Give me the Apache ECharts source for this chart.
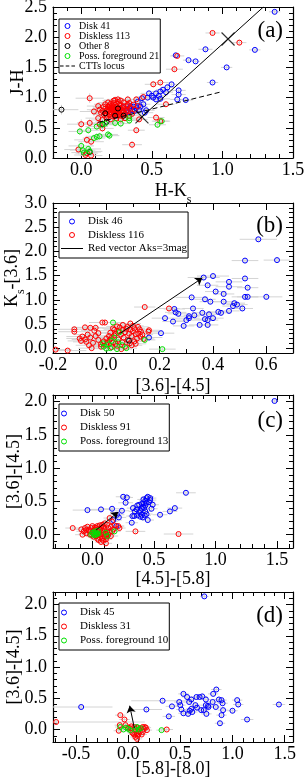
<!DOCTYPE html>
<html><head><meta charset="utf-8">
<script src="https://cdn.jsdelivr.net/npm/echarts@6/dist/echarts.min.js"></script>
<style>html,body{margin:0;padding:0;background:#fff}#c{width:306px;height:778px}</style>
</head><body><div id="c"></div>
<script>
// ---------- DATA: [x, y, xerr, yerr] ----------
// Panel (a): J-H vs H-Ks
const diskA = [[1.37,2.42,0.04,0.03],[0.88,1.80,0.05,0.04],[1.23,1.79,0.04,0.03],[0.67,1.70,0.03,0.03],[0.76,1.62,0.04,0.03],[0.81,1.60,0.03,0.03],[1.03,1.50,0.04,0.03],[0.93,1.25,0.04,0.03],[0.64,1.22,0.04,0.04],[0.61,1.17,0.05,0.04],[0.58,1.13,0.05,0.04],[0.69,1.12,0.05,0.04],[0.56,1.10,0.06,0.05],[0.53,1.07,0.05,0.04],[0.48,1.07,0.06,0.05],[0.50,1.03,0.05,0.05],[0.55,1.03,0.06,0.05],[0.69,1.05,0.05,0.04],[0.53,0.97,0.06,0.05],[0.56,0.98,0.07,0.05],[0.68,0.97,0.05,0.04],[0.74,0.96,0.05,0.04],[0.43,0.99,0.05,0.05],[0.40,0.93,0.06,0.05],[0.44,0.89,0.05,0.05],[0.37,0.85,0.06,0.05],[0.39,0.83,0.05,0.05],[0.36,0.79,0.06,0.05],[0.32,0.79,0.07,0.06],[0.34,0.82,0.06,0.05],[0.35,0.86,0.05,0.05],[0.38,0.78,0.06,0.05],[0.41,0.80,0.05,0.05],[0.42,0.85,0.05,0.05],[0.46,0.79,0.06,0.05],[0.30,0.84,0.06,0.05],[0.33,0.76,0.07,0.05],[0.45,0.75,0.06,0.05],[0.47,1.00,0.05,0.05],[0.51,1.00,0.06,0.05],[0.60,1.09,0.05,0.04]];
const disklessA = [[0.93,2.07,0.05,0.04],[1.12,1.91,0.05,0.04],[0.49,1.47,0.07,0.05],[0.66,1.47,0.06,0.05],[0.68,1.69,0.05,0.04],[0.56,1.25,0.06,0.05],[0.51,1.22,0.06,0.05],[0.06,0.99,0.10,0.08],[0.24,0.96,0.08,0.06],[0.39,0.97,0.06,0.05],[0.44,1.01,0.06,0.05],[0.33,0.97,0.07,0.06],[0.60,0.89,0.06,0.05],[0.09,0.77,0.10,0.08],[0.12,0.66,0.09,0.07],[0.00,0.56,0.10,0.08],[0.06,0.58,0.09,0.07],[0.13,0.56,0.08,0.07],[0.15,0.49,0.08,0.06],[0.39,0.46,0.06,0.05],[0.36,0.22,0.07,0.06],[-0.02,0.14,0.10,0.08],[0.04,0.30,0.09,0.07],[0.07,0.27,0.09,0.07],[0.03,0.05,0.08,0.06],[0.07,0.04,0.08,0.06],[0.41,0.64,0.06,0.05],[0.53,0.67,0.06,0.05],[0.56,0.61,0.06,0.05],[0.40,0.86,0.06,0.05],[0.33,0.86,0.07,0.05],[0.04,0.08,0.08,0.06],[0.15,0.63,0.08,0.06],[0.18,0.72,0.08,0.06],
[0.17,0.82,0.09,0.07],[0.19,0.85,0.08,0.06],[0.20,0.87,0.09,0.07],[0.21,0.83,0.07,0.06],[0.22,0.80,0.08,0.06],[0.23,0.78,0.09,0.07],[0.24,0.82,0.08,0.06],[0.25,0.85,0.07,0.06],[0.26,0.93,0.08,0.06],[0.27,0.88,0.09,0.07],[0.28,0.82,0.08,0.06],[0.29,0.79,0.07,0.06],[0.30,0.86,0.08,0.06],[0.31,0.81,0.09,0.07],[0.21,0.76,0.08,0.06],[0.22,0.74,0.07,0.06],[0.23,0.72,0.08,0.06],[0.24,0.76,0.09,0.07],[0.25,0.79,0.08,0.06],[0.26,0.75,0.07,0.06],[0.27,0.77,0.08,0.06],[0.20,0.79,0.09,0.07],[0.19,0.77,0.08,0.06],[0.18,0.79,0.07,0.06],[0.16,0.85,0.08,0.06],[0.15,0.78,0.09,0.07],[0.17,0.74,0.08,0.06],[0.18,0.70,0.07,0.06],[0.20,0.72,0.08,0.06],[0.22,0.69,0.09,0.07],[0.24,0.71,0.08,0.06],[0.26,0.70,0.07,0.06],[0.28,0.73,0.08,0.06],[0.30,0.75,0.09,0.07],[0.32,0.77,0.08,0.06],[0.23,0.84,0.07,0.06],[0.25,0.90,0.08,0.06],[0.24,0.88,0.09,0.07],[0.22,0.86,0.08,0.06],[0.21,0.90,0.07,0.06],[0.23,0.91,0.08,0.06],[0.27,0.83,0.09,0.07],[0.29,0.84,0.08,0.06],[0.26,0.81,0.07,0.06],[0.28,0.87,0.08,0.06],[0.21,0.81,0.09,0.07],[0.19,0.81,0.08,0.06],[0.20,0.84,0.07,0.06],[0.22,0.83,0.08,0.06],[0.24,0.79,0.09,0.07],[0.26,0.78,0.08,0.06],[0.23,0.81,0.07,0.06],[0.25,0.74,0.08,0.06],[0.27,0.72,0.09,0.07],[0.29,0.69,0.08,0.06],[0.31,0.72,0.07,0.06],[0.33,0.80,0.08,0.06],[0.35,0.83,0.09,0.07],[0.16,0.72,0.08,0.06],[0.14,0.75,0.07,0.06],[0.18,0.66,0.08,0.06],[0.21,0.64,0.09,0.07],[0.25,0.66,0.08,0.06],[0.28,0.64,0.07,0.06],[0.31,0.66,0.08,0.06],[0.34,0.70,0.09,0.07],[0.36,0.73,0.08,0.06],[0.37,0.88,0.07,0.06],[0.34,0.91,0.08,0.06],[0.30,0.92,0.09,0.07],[0.28,0.95,0.08,0.06],[0.19,0.92,0.07,0.06],[0.17,0.89,0.08,0.06],[0.13,0.80,0.09,0.07],[0.12,0.86,0.08,0.06],[0.26,0.97,0.07,0.06],[0.23,0.95,0.08,0.06],[0.33,0.88,0.09,0.07],[0.38,0.80,0.08,0.06]];
const otherA = [[-0.14,0.80,0.12,0.08],[0.17,0.74,0.08,0.06],[0.26,0.82,0.07,0.06],[0.24,0.70,0.07,0.06],[0.30,0.70,0.07,0.06],[0.18,0.60,0.08,0.06],[0.15,0.56,0.08,0.06],[0.06,0.10,0.08,0.06]];
const fgA = [[-0.01,0.44,0.08,0.06],[0.05,0.46,0.08,0.06],[0.11,0.52,0.08,0.06],[0.11,0.35,0.08,0.06],[0.09,0.33,0.08,0.06],[0.13,0.36,0.08,0.06],[0.19,0.39,0.07,0.06],[0.20,0.37,0.07,0.06],[0.15,0.55,0.08,0.06],[0.17,0.57,0.08,0.06],[0.24,0.58,0.07,0.06],[0.28,0.57,0.07,0.06],[0.34,0.66,0.07,0.05],[0.34,0.62,0.07,0.05],[0.54,0.55,0.06,0.05],[0.57,0.61,0.06,0.05],[0.00,0.20,0.09,0.07],[0.01,0.13,0.09,0.07],[0.02,0.09,0.09,0.07],[0.05,0.15,0.09,0.07],[0.06,0.11,0.09,0.07]];
const cttsLocus = [[0.12,0.59],[1.0,1.10]];
const redLineA = [[0.42,0.66],[1.29,2.50]];
const crossA = [[0.43,0.68],[1.04,1.97]];

// Panel (b): Ks-[3.6] vs [3.6]-[4.5]
const diskB = [[0.57,2.25,0.07,0.05],[0.52,1.81,0.05,0.05],[0.64,1.82,0.05,0.05],[0.52,1.44,0.05,0.05],[0.53,1.25,0.04,0.05],[0.52,1.06,0.05,0.05],[0.60,1.06,0.06,0.05],[0.51,0.82,0.04,0.05],[0.48,0.93,0.04,0.05],[0.475,0.87,0.04,0.05],[0.46,1.27,0.05,0.05],[0.46,1.37,0.05,0.05],[0.44,1.12,0.04,0.05],[0.41,1.17,0.04,0.05],[0.44,0.96,0.04,0.05],[0.46,0.77,0.04,0.05],[0.43,0.73,0.04,0.05],[0.40,1.49,0.06,0.05],[0.38,1.30,0.04,0.05],[0.365,1.46,0.06,0.05],[0.37,1.01,0.04,0.05],[0.39,0.96,0.04,0.05],[0.32,1.05,0.06,0.05],[0.325,0.82,0.04,0.05],[0.33,0.68,0.04,0.05],[0.31,0.62,0.04,0.05],[0.30,0.58,0.04,0.05],[0.36,0.73,0.04,0.05],[0.385,0.70,0.04,0.05],[0.37,0.60,0.04,0.05],[0.38,0.58,0.04,0.05],[0.40,0.62,0.04,0.05],[0.35,0.48,0.04,0.05],[0.38,0.48,0.04,0.05],[0.29,0.46,0.04,0.05],[0.25,0.55,0.04,0.05],[0.22,0.62,0.05,0.05],[0.255,0.81,0.04,0.05],[0.26,0.74,0.04,0.05],[0.27,0.71,0.04,0.05],[0.205,0.31,0.05,0.05],[0.16,0.22,0.05,0.05],[0.31,0.66,0.04,0.05],[0.42,0.75,0.04,0.05],[0.49,0.90,0.04,0.05],[0.53,1.06,0.04,0.05]];
const disklessB = [[-0.19,-0.03,0.06,0.04],[-0.145,-0.05,0.07,0.04],[-0.12,0.39,0.06,0.05],[-0.12,0.34,0.06,0.05],[-0.09,0.24,0.06,0.05],[-0.08,0.18,0.05,0.05],[-0.075,0.13,0.05,0.05],[-0.06,0.42,0.05,0.05],[-0.07,0.28,0.05,0.05],[-0.04,0.42,0.05,0.05],[-0.015,0.53,0.05,0.05],[-0.005,0.53,0.05,0.05],[-0.04,0.25,0.05,0.05],[-0.055,0.0,0.05,0.04],[-0.06,0.22,0.05,0.05],[-0.05,0.11,0.05,0.05],[-0.03,0.17,0.05,0.05],[-0.02,0.03,0.05,0.04],[0.0,0.07,0.04,0.04],[0.012,0.17,0.04,0.05],[0.02,0.21,0.04,0.05],[0.03,0.26,0.04,0.05],[0.035,0.30,0.04,0.05],[0.045,0.35,0.04,0.05],[0.05,0.43,0.04,0.05],[0.062,0.48,0.04,0.05],[0.09,0.51,0.04,0.05],[0.10,0.46,0.04,0.05],[0.105,0.41,0.04,0.05],[0.119,0.44,0.04,0.05],[0.125,0.39,0.04,0.05],[0.13,0.34,0.04,0.05],[0.128,0.24,0.04,0.05],[0.144,0.85,0.04,0.05],[0.158,0.34,0.04,0.05],[0.16,0.37,0.04,0.05],[0.235,0.82,0.04,0.05],[0.08,0.17,0.04,0.05],[0.088,0.10,0.04,0.04],[0.056,-0.02,0.04,0.04],[0.04,0.05,0.04,0.04],[0.025,0.12,0.04,0.05],[0.01,0.25,0.04,0.05],[0.0,0.20,0.04,0.05],[-0.01,0.14,0.04,0.05],[0.015,0.32,0.04,0.05],[0.03,0.38,0.04,0.05],[0.055,0.28,0.04,0.05],[0.065,0.22,0.04,0.05],[0.07,0.33,0.04,0.05],[0.075,0.40,0.04,0.05],[0.085,0.30,0.04,0.05],[0.095,0.25,0.04,0.05],[0.1,0.35,0.04,0.05],[0.11,0.29,0.04,0.05],[0.115,0.20,0.04,0.05],[0.105,0.14,0.04,0.05],[0.095,0.06,0.04,0.04],[0.07,0.03,0.04,0.04],[0.06,0.12,0.04,0.05],[0.045,0.18,0.04,0.05],[0.035,0.09,0.04,0.04],[0.02,0.02,0.04,0.04],[0.005,0.12,0.04,0.05],[-0.02,0.08,0.04,0.04],[-0.03,0.31,0.05,0.05],[-0.045,0.36,0.05,0.05],[-0.08,0.43,0.05,0.05],[0.04,0.45,0.04,0.05],[0.025,0.41,0.04,0.05],[0.06,0.38,0.04,0.05],[0.08,0.44,0.04,0.05],[0.09,0.38,0.04,0.05],[0.12,0.30,0.04,0.05],[0.135,0.28,0.04,0.05],[0.14,0.19,0.04,0.05],[0.11,0.09,0.04,0.04],[-0.1,0.2,0.05,0.05],[-0.095,0.15,0.05,0.05],[-0.065,0.06,0.05,0.04]];
const fgB = [[0.025,0.53,0.04,0.05],[-0.012,0.10,0.04,0.04],[-0.01,0.03,0.04,0.04],[0.0,-0.01,0.04,0.04],[0.01,0.08,0.04,0.04],[0.02,0.15,0.04,0.05],[0.04,-0.02,0.04,0.04],[0.075,0.0,0.04,0.04],[0.144,0.17,0.04,0.05],[0.21,-0.02,0.05,0.04],[0.03,0.22,0.04,0.05],[0.05,0.33,0.04,0.05],[0.06,0.06,0.04,0.04],[0.045,0.12,0.04,0.05],[0.015,0.0,0.04,0.04]];
const otherB = [[0.085,0.155,0.04,0.05]];
const vectorB = [[0.05,0.30],[0.36,1.45]];

// Panel (c): [3.6]-[4.5] vs [4.5]-[5.8]
const diskC = [[1.48,2.01,0.03,0.03],[0.76,0.63,0.08,0.04],[-0.04,0.37,0.12,0.04],[0.07,0.38,0.10,0.04],[0.16,0.39,0.08,0.04],[0.17,0.22,0.07,0.04],[0.195,0.13,0.06,0.04],[0.25,0.57,0.06,0.04],[0.27,0.48,0.06,0.04],[0.28,0.56,0.05,0.04],[0.24,0.36,0.06,0.04],[0.32,0.18,0.05,0.04],[0.33,0.40,0.05,0.04],[0.34,0.28,0.05,0.04],[0.365,0.44,0.05,0.04],[0.38,0.45,0.05,0.04],[0.365,0.29,0.05,0.04],[0.39,0.36,0.05,0.04],[0.405,0.47,0.05,0.04],[0.415,0.53,0.05,0.04],[0.44,0.55,0.05,0.04],[0.45,0.57,0.05,0.04],[0.42,0.40,0.05,0.04],[0.43,0.35,0.05,0.04],[0.425,0.29,0.05,0.04],[0.38,0.34,0.05,0.04],[0.41,0.42,0.05,0.04],[0.46,0.49,0.05,0.04],[0.47,0.52,0.05,0.04],[0.49,0.45,0.05,0.04],[0.48,0.39,0.05,0.04],[0.45,0.22,0.05,0.04],[0.55,0.30,0.06,0.04],[0.63,0.35,0.06,0.04],[0.67,0.40,0.06,0.04],[0.345,0.35,0.05,0.04],[0.325,0.28,0.05,0.04],[0.40,0.30,0.05,0.04],[0.41,0.26,0.05,0.04],[0.43,0.44,0.05,0.04],[0.44,0.48,0.05,0.04],[0.43,0.51,0.05,0.04],[0.40,0.39,0.05,0.04],[0.39,0.27,0.05,0.04],[0.42,0.47,0.05,0.04],[0.44,0.31,0.05,0.04],[0.36,0.38,0.05,0.04],[0.20,0.30,0.06,0.04],[0.215,0.26,0.06,0.04],[0.47,0.55,0.05,0.04]];
const disklessC = [[-0.16,0.10,0.06,0.03],[0.35,0.05,0.08,0.03],[0.70,0.01,0.12,0.03],[0.11,-0.13,0.05,0.03],[0.14,0.25,0.05,0.03],[0.16,0.20,0.05,0.03],[0.18,0.14,0.05,0.03],[0.21,0.13,0.05,0.03],[0.22,0.10,0.05,0.03],[0.17,0.08,0.05,0.03],[0.15,0.12,0.05,0.03],[-0.07,0.05,0.06,0.03],[-0.06,0.10,0.05,0.03],[-0.05,0.02,0.06,0.03],[-0.04,0.12,0.05,0.03],[-0.03,0.07,0.06,0.03],[-0.02,0.0,0.05,0.03],[-0.01,0.10,0.06,0.03],[0.0,0.04,0.05,0.03],[0.0,0.13,0.06,0.03],[0.01,-0.03,0.05,0.03],[0.02,0.08,0.06,0.03],[0.02,0.11,0.05,0.03],[0.03,0.02,0.06,0.03],[0.03,-0.02,0.05,0.03],[0.04,0.06,0.06,0.03],[0.04,0.13,0.05,0.03],[0.05,0.0,0.06,0.03],[0.05,0.09,0.05,0.03],[0.06,-0.04,0.06,0.03],[0.06,0.04,0.05,0.03],[0.07,0.11,0.06,0.03],[0.07,0.0,0.05,0.03],[0.08,0.06,0.06,0.03],[0.08,-0.06,0.05,0.03],[0.09,0.03,0.06,0.03],[0.09,-0.09,0.05,0.03],[0.10,0.08,0.06,0.03],[0.10,-0.02,0.05,0.03],[0.11,0.01,0.06,0.03],[0.11,-0.07,0.05,0.03],[0.12,0.05,0.06,0.03],[0.12,-0.03,0.05,0.03],[0.13,0.10,0.06,0.03],[0.13,0.00,0.05,0.03],[0.05,-0.08,0.06,0.03],[0.07,-0.11,0.05,0.03],[0.04,-0.06,0.06,0.03],[-0.02,0.05,0.05,0.03],[-0.05,0.07,0.06,0.03],[0.01,0.06,0.05,0.03],[0.0,-0.01,0.06,0.03],[0.03,0.10,0.05,0.03],[0.06,0.14,0.06,0.03],[0.09,0.12,0.05,0.03],[0.12,0.15,0.06,0.03],[0.14,0.04,0.05,0.03],[0.15,-0.02,0.06,0.03],[0.16,0.05,0.05,0.03],[0.10,0.17,0.06,0.03],[0.08,0.15,0.05,0.03],[-0.08,0.0,0.06,0.03],[-0.09,0.08,0.05,0.03]];
const fgC = [[0.0,0.03,0.05,0.03],[-0.01,0.0,0.05,0.03],[0.01,0.01,0.05,0.03],[0.02,0.05,0.05,0.03],[0.03,0.0,0.05,0.03],[0.03,0.03,0.05,0.03],[0.04,0.01,0.05,0.03],[0.045,0.06,0.05,0.03],[0.05,0.02,0.05,0.03],[0.02,-0.01,0.05,0.03],[0.11,0.03,0.05,0.03],[0.12,-0.02,0.05,0.03],[0.18,0.05,0.05,0.03]];
const vectorC = [[0.03,0.07],[0.21,0.34]];

// Panel (d): [3.6]-[4.5] vs [5.8]-[8.0]
const diskD = [[0.73,2.13,0.04,0.03],[-0.45,0.36,0.30,0.04],[0.175,0.32,0.15,0.04],[0.33,0.46,0.30,0.04],[0.39,0.21,0.06,0.04],[0.42,0.37,0.06,0.04],[0.49,0.44,0.05,0.04],[0.50,0.39,0.05,0.04],[0.51,0.32,0.05,0.04],[0.53,0.57,0.05,0.04],[0.53,0.26,0.05,0.04],[0.565,0.52,0.05,0.04],[0.585,0.44,0.05,0.04],[0.605,0.48,0.05,0.04],[0.605,0.33,0.05,0.04],[0.615,0.28,0.05,0.04],[0.575,0.25,0.05,0.04],[0.645,0.39,0.05,0.04],[0.655,0.52,0.05,0.04],[0.685,0.52,0.05,0.04],[0.70,0.31,0.05,0.04],[0.725,0.31,0.05,0.04],[0.745,0.48,0.05,0.04],[0.745,0.39,0.05,0.04],[0.75,0.25,0.05,0.04],[0.765,0.38,0.05,0.04],[0.81,0.44,0.05,0.04],[0.815,0.57,0.05,0.04],[0.84,0.36,0.05,0.04],[0.845,0.64,0.05,0.04],[0.87,0.48,0.05,0.04],[0.895,0.47,0.05,0.04],[0.905,0.42,0.05,0.04],[0.895,0.23,0.05,0.04],[0.88,0.10,0.05,0.04],[0.91,0.31,0.05,0.04],[1.0,0.30,0.05,0.04],[1.045,0.47,0.05,0.04],[1.055,0.40,0.05,0.04],[1.14,0.16,0.06,0.04],[1.445,0.40,0.06,0.04],[0.77,0.36,0.05,0.04],[0.59,0.30,0.05,0.04],[0.66,0.35,0.05,0.04],[0.71,0.53,0.05,0.04]];
const disklessD = [[-0.69,0.12,0.85,0.03],[-0.075,0.23,0.05,0.03],[-0.035,0.16,0.05,0.03],[-0.08,0.07,0.05,0.03],[-0.09,-0.02,0.05,0.03],[-0.025,0.07,0.05,0.03],[0.05,-0.07,0.05,0.03],[0.08,-0.06,0.05,0.03],[0.085,-0.15,0.05,0.03],[0.07,0.01,0.05,0.03],[0.14,0.04,0.05,0.03],[0.17,0.03,0.05,0.03],[0.14,-0.04,0.05,0.03],[0.37,0.0,0.06,0.03],[0.02,0.02,0.05,0.03],[0.04,-0.05,0.05,0.03],[0.06,-0.08,0.05,0.03],[0.09,-0.10,0.05,0.03],[0.10,0.0,0.05,0.03],[0.11,-0.04,0.05,0.03],[0.12,0.02,0.05,0.03],[0.03,0.05,0.05,0.03],[0.0,0.03,0.05,0.03],[0.06,0.04,0.05,0.03],[0.09,0.03,0.05,0.03],[0.15,0.01,0.05,0.03],[0.18,-0.01,0.05,0.03],[0.13,-0.08,0.05,0.03],[0.07,-0.12,0.05,0.03],[0.10,-0.07,0.05,0.03],[0.16,0.04,0.05,0.03]];
const fgD = [[-0.075,0.04,0.05,0.03],[-0.045,0.0,0.05,0.03],[-0.02,0.03,0.05,0.03],[0.0,0.01,0.05,0.03],[0.02,-0.01,0.05,0.03],[0.07,0.0,0.05,0.03],[0.085,0.04,0.05,0.03],[0.10,0.0,0.05,0.03],[0.12,0.02,0.05,0.03],[0.32,-0.01,0.05,0.03]];
const vectorD = [[0.06,0.02],[0.015,0.38]];

// Axis ranges and tick labels
const panels = [
  {x:[-0.2,1.5], y:[0,2.5],   xMajor:[0.0,0.5,1.0,1.5], yMajor:[0.0,0.5,1.0,1.5,2.0,2.5], xName:'H-K{s|s}', yName:'J-H', tag:'(a)'},
  {x:[-0.2,0.7], y:[-0.1,3.0], xMajor:[-0.2,0.0,0.2,0.4,0.6], yMajor:[0.0,0.5,1.0,1.5,2.0,2.5,3.0], xName:'[3.6]-[4.5]', yName:'K{s|s}-[3.6]', tag:'(b)'},
  {x:[-0.32,1.63], y:[-0.2,2.1], xMajor:[0.0,0.5,1.0,1.5], yMajor:[0.0,0.5,1.0,1.5,2.0], xName:'[4.5]-[5.8]', yName:'[3.6]-[4.5]', tag:'(c)'},
  {x:[-0.72,1.58], y:[-0.2,2.2], xMajor:[-0.5,0.0,0.5,1.0,1.5], yMajor:[0.0,0.5,1.0,1.5,2.0], xName:'[5.8]-[8.0]', yName:'[3.6]-[4.5]', tag:'(d)'}
];

// ---------- LAYOUT ----------
const F = '"Liberation Serif", "Times New Roman", serif';
const grids = [
  {left:53, top:7, width:240, height:151},
  {left:53, top:203, width:240, height:150},
  {left:53, top:395, width:240, height:153},
  {left:53, top:592, width:240, height:150}
];
const xNameGap = [24, 24, 22, 18];
const yNameGap = [26, 32, 30, 30];
const BLUE='#0000ff', RED='#ff0000', GREEN='#00e000', BLACK='#000000', ERR='#d4d4d4';

function minorTicks(min, max){
  const out=[]; const a=Math.ceil(min*10-1e-6), b=Math.floor(max*10+1e-6);
  for(let k=a;k<=b;k++) out.push(k/10);
  return out;
}
const rich = {s:{fontSize:12, fontFamily:F, verticalAlign:'bottom', padding:[0,0,-6,0]}};

const xAxes=[], yAxes=[];
panels.forEach((p,gi)=>{
  const mk = (dim, pos, ticks, len, showLine, labelVals, name) => {
    const rng = dim==='x'?p.x:p.y;
    const ax = {
      type:'value', gridIndex:gi, position:pos, min:rng[0], max:rng[1], scale:true,
      splitLine:{show:false},
      axisLine:{show:showLine, onZero:false, lineStyle:{color:'#000', width:1.2}},
      axisTick:{show:true, inside:true, length:len, customValues:ticks, lineStyle:{color:'#000', width:1}},
      axisLabel:labelVals ? {show:true, customValues:labelVals, formatter:v=>Number(v).toFixed(1), fontFamily:F, fontSize:18, color:'#000', margin: dim==='x'?3:6} : {show:false}
    };
    if(name){
      ax.name=name; ax.nameLocation='middle'; ax.nameMoveOverlap=false;
      ax.nameGap = dim==='x'?xNameGap[gi]:yNameGap[gi];
      ax.nameTextStyle={fontFamily:F, fontSize:18, color:'#000', rich:rich};
    }
    return ax;
  };
  const xm = minorTicks(p.x[0],p.x[1]), ym = minorTicks(p.y[0],p.y[1]);
  xAxes.push(mk('x','bottom',p.xMajor,7,true,p.xMajor,p.xName));
  xAxes.push(mk('x','bottom',xm,4,false,null,null));
  xAxes.push(mk('x','top',p.xMajor,7,true,null,null));
  xAxes.push(mk('x','top',xm,4,false,null,null));
  yAxes.push(mk('y','left',p.yMajor,7,true,p.yMajor,p.yName));
  yAxes.push(mk('y','left',ym,4,false,null,null));
  yAxes.push(mk('y','right',p.yMajor,7,true,null,null));
  yAxes.push(mk('y','right',ym,4,false,null,null));
});

function errSeries(gi, data){
  return {type:'custom', name:'err'+gi, xAxisIndex:gi*4, yAxisIndex:gi*4, clip:true, silent:true, z:1,
    data:data,
    renderItem:(params, api)=>{
      const x=api.value(0), y=api.value(1), ex=api.value(2), ey=api.value(3);
      const a=api.coord([x-ex,y]), b=api.coord([x+ex,y]), c=api.coord([x,y-ey]), d=api.coord([x,y+ey]);
      return {type:'group', children:[
        {type:'line', shape:{x1:a[0],y1:a[1],x2:b[0],y2:b[1]}, style:{stroke:ERR, lineWidth:1}},
        {type:'line', shape:{x1:c[0],y1:c[1],x2:d[0],y2:d[1]}, style:{stroke:ERR, lineWidth:1}}
      ]};
    }};
}
function pts(gi, name, data, color){
  return {type:'scatter', name:name, xAxisIndex:gi*4, yAxisIndex:gi*4, data:data, symbol:'circle', symbolSize:5, z:3,
    itemStyle:{color:'rgba(255,255,255,0)', borderColor:color, borderWidth:1, opacity:1}, emphasis:{disabled:true}};
}
function arrow(gi, name, seg){
  return {type:'lines', name:name, coordinateSystem:'cartesian2d', xAxisIndex:gi*4, yAxisIndex:gi*4, z:5,
    data:[{coords:seg}], symbol:['none','arrow'], symbolSize:7,
    lineStyle:{color:'#000', width:1, opacity:1}, itemStyle:{color:'#000'}};
}
function line(gi, name, seg, dashed){
  return {type:'line', name:name, xAxisIndex:gi*4, yAxisIndex:gi*4, data:seg, showSymbol:false, symbol:'none', z:4,
    lineStyle:{color:'#000', width:1, type: dashed?[5,3]:'solid'}, itemStyle:{color:'#000'}, emphasis:{disabled:true}};
}

const series = [
  errSeries(0, diskA.concat(disklessA, otherA, fgA)),
  pts(0,'Disk 41',diskA,BLUE), pts(0,'Diskless 113',disklessA,RED), pts(0,'Other 8',otherA,BLACK), pts(0,'Poss. foreground 21',fgA,GREEN),
  line(0,'CTTs locus',cttsLocus,true), line(0,'Reddening a',redLineA,false),
  {type:'scatter', name:'cross a', xAxisIndex:0, yAxisIndex:0, data:crossA, symbol:'path://M0,0L10,10M10,0L0,10', symbolSize:13, z:5,
    itemStyle:{color:'none', borderColor:'#000', borderWidth:1.2}},
  errSeries(1, diskB.concat(disklessB, fgB, otherB)),
  pts(1,'Disk 46',diskB,BLUE), pts(1,'Diskless 116',disklessB,RED), pts(1,'fg b',fgB,GREEN), pts(1,'other b',otherB,BLACK),
  arrow(1,'Red vector Aks=3mag',vectorB),
  errSeries(2, diskC.concat(disklessC, fgC)),
  pts(2,'Disk 50',diskC,BLUE), pts(2,'Diskless 91',disklessC,RED), pts(2,'Poss. foreground 13',fgC,GREEN),
  arrow(2,'vec c',vectorC),
  errSeries(3, diskD.concat(disklessD, fgD)),
  pts(3,'Disk 45',diskD,BLUE), pts(3,'Diskless 31',disklessD,RED), pts(3,'Poss. foreground 10',fgD,GREEN),
  arrow(3,'vec d',vectorD)
];

const circ = (name,color)=>({name:name, icon:'circle', itemStyle:{color:'rgba(255,255,255,0)', borderColor:color, borderWidth:1}});
const lineIcon = (name, path)=>({name:name, icon:path, itemStyle:{color:'#000', borderWidth:0, borderColor:'rgba(0,0,0,0)'}});
const legBase = {orient:'vertical', borderColor:'#000', borderWidth:1, backgroundColor:'#fff', selectedMode:false, align:'left'};
const legends = [
  Object.assign({}, legBase, {left:59, top:19, itemWidth:15, itemHeight:5, itemGap:0, padding:[2,1,2,1],
    textStyle:{fontFamily:F, fontSize:10, lineHeight:7.6, color:'#000', padding:[0,0,0,-1]},
    data:[circ('Disk 41',BLUE), circ('Diskless 113',RED), circ('Other 8',BLACK), circ('Poss. foreground 21',GREEN),
      lineIcon('CTTs locus','path://M0,0h5v1.6h-5zM8,0h5v1.6h-5zM16,0h5v1.6h-5z')]}),
  Object.assign({}, legBase, {left:59, top:212, itemWidth:22, itemHeight:5, itemGap:2.5, padding:[4,1,4,2],
    textStyle:{fontFamily:F, fontSize:11, lineHeight:11, color:'#000'},
    data:[circ('Disk 46',BLUE), circ('Diskless 116',RED), lineIcon('Red vector Aks=3mag','path://M0,0h22v1h-22z')]}),
  Object.assign({}, legBase, {left:59, top:404, itemWidth:22, itemHeight:5, itemGap:3, padding:[4,1,4,2],
    textStyle:{fontFamily:F, fontSize:11, lineHeight:11, color:'#000'},
    data:[circ('Disk 50',BLUE), circ('Diskless 91',RED), circ('Poss. foreground 13',GREEN)]}),
  Object.assign({}, legBase, {left:59, top:603, itemWidth:22, itemHeight:5, itemGap:3, padding:[4,1,4,2],
    textStyle:{fontFamily:F, fontSize:11, lineHeight:11, color:'#000'},
    data:[circ('Disk 45',BLUE), circ('Diskless 31',RED), circ('Poss. foreground 10',GREEN)]})
];
const titleTops=[14, 209, 404, 599];
const titles = panels.map((p,i)=>({text:p.tag, right:18, top:titleTops[i], textStyle:{fontFamily:F, fontSize:23, fontWeight:'normal', color:'#000'}}));

const chart = echarts.init(document.getElementById('c'), null, {renderer:'canvas'});
chart.setOption({
  animation:false, backgroundColor:'#fff',
  textStyle:{fontFamily:F},
  grid:grids.map(g=>Object.assign({containLabel:false, outerBoundsMode:'none'}, g)),
  xAxis:xAxes, yAxis:yAxes, legend:legends, title:titles, series:series
});
</script></body></html>
